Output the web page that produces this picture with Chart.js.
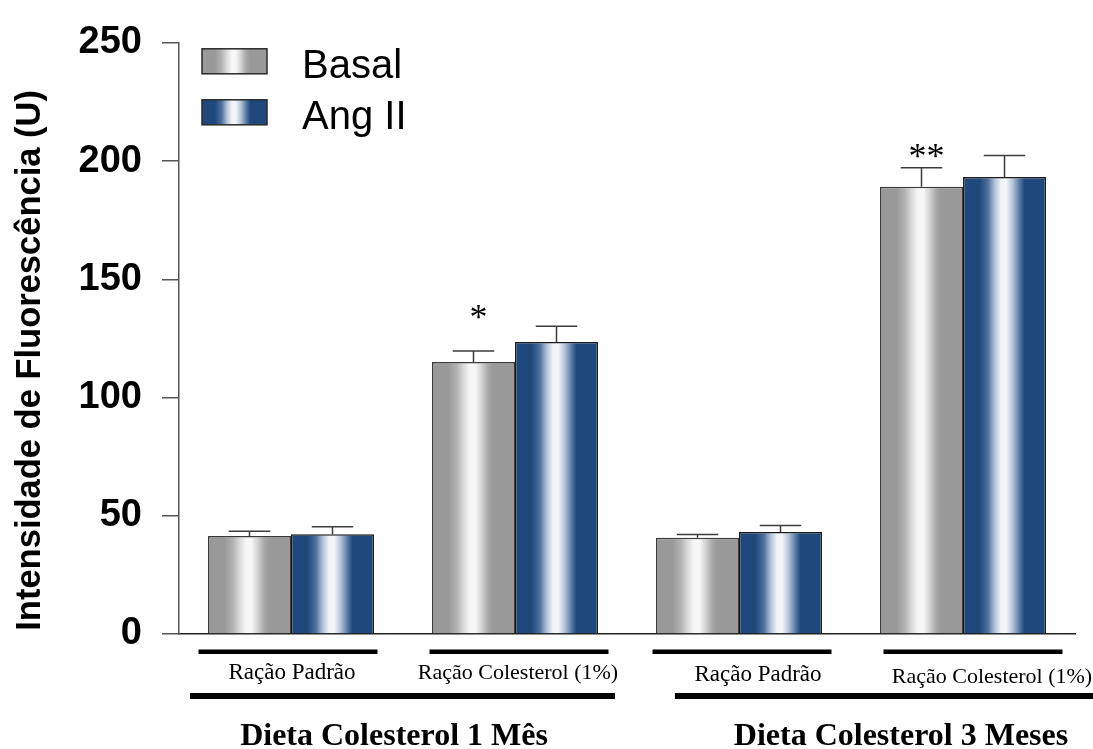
<!DOCTYPE html>
<html>
<head>
<meta charset="utf-8">
<script src="https://cdn.jsdelivr.net/npm/chart.js@4/dist/chart.umd.min.js"></script>
<style>
  html, body { margin: 0; padding: 0; background: #ffffff; }
  #wrap { width: 1093px; height: 749px; }
</style>
</head>
<body>
<div id="wrap"><canvas id="chart" width="1093" height="749"></canvas></div>
<script>
// ---- data ----
const categories = ['Ração Padrão', 'Ração Colesterol (1%)', 'Ração Padrão', 'Ração Colesterol (1%)'];
const dietGroups = ['Dieta Colesterol 1 Mês', 'Dieta Colesterol 3 Meses'];
const seriesNames = ['Basal', 'Ang II'];
const basalValues = [41.4, 115.0, 40.7, 189.1];
const basalErrors = [2.1, 4.7, 1.4, 8.1];
const angValues = [42.2, 123.5, 43.1, 193.3];
const angErrors = [3.1, 6.6, 2.8, 9.0];
const basalMarks = ['', '*', '', '**'];
const yTicks = [0, 50, 100, 150, 200, 250];
const yTitle = 'Intensidade de Fluorescência (U)';

// ---- styling ----
const SANS = "'Liberation Sans', Arial, Helvetica, sans-serif";
const SERIF = "'Liberation Serif', 'Times New Roman', Times, serif";
const BASE = ['#999999', '#1f497d'];
const STOPS = [
  [[0, '#999999'], [0.2, '#999999'], [0.3, '#b3b3b3'], [0.38, '#dadada'], [0.46, '#f7f7f7'],
   [0.52, '#f7f7f7'], [0.6, '#d2d2d2'], [0.68, '#a6a6a6'], [0.74, '#999999'], [1, '#999999']],
  [[0, '#1f497d'], [0.2, '#1f497d'], [0.3, '#4d709c'], [0.38, '#aebfd6'], [0.46, '#f2f5f9'],
   [0.52, '#f2f5f9'], [0.6, '#b3c3d8'], [0.68, '#5a7ba5'], [0.74, '#1f497d'], [1, '#1f497d']]
];
const ERRORS = [basalErrors, angErrors];
const VALUES = [basalValues, angValues];
const MARK_GAP = [0, 38, 0, 16];          // px between error cap and significance mark
const UNDERLINE_SHIFT = [-3, 4, 3, 10];   // px shift of the short rules from bar-pair centres
const LABEL_SHIFT = [1, 3, 19, 29];       // px shift of the diet labels
const GROUP_SHIFT = [-9, 50];             // px shift of the period labels

function shade(ctx, x0, x1, k) {
  const g = ctx.createLinearGradient(x0, 0, x1, 0);
  STOPS[k].forEach(([o, c]) => g.addColorStop(o, c));
  return g;
}

// bar fills: horizontal cylinder-like shading per bar
const shadingPlugin = {
  id: 'shading',
  beforeDatasetsDraw(chart) {
    chart.data.datasets.forEach((ds, di) => {
      chart.getDatasetMeta(di).data.forEach(bar => {
        const { x, width } = bar.getProps(['x', 'width'], true);
        bar.options.backgroundColor = shade(chart.ctx, x - width / 2, x + width / 2, di);
      });
    });
  }
};

// error bars (upper half) and significance marks
const errorPlugin = {
  id: 'errors',
  afterDatasetsDraw(chart) {
    const ctx = chart.ctx, y = chart.scales.y;
    ctx.save();
    chart.data.datasets.forEach((ds, di) => {
      chart.getDatasetMeta(di).data.forEach((bar, i) => {
        const { x, y: top, width } = bar.getProps(['x', 'y', 'width'], true);
        const cap = y.getPixelForValue(VALUES[di][i] + ERRORS[di][i]);
        ctx.strokeStyle = '#3c3c3c';
        ctx.lineWidth = 1.5;
        ctx.beginPath();
        ctx.moveTo(x, top);
        ctx.lineTo(x, cap);
        ctx.moveTo(x - width / 4, cap);
        ctx.lineTo(x + width / 4, cap);
        ctx.stroke();
        if (di === 0 && basalMarks[i]) {
          ctx.fillStyle = '#000';
          ctx.font = '36px ' + SERIF;
          ctx.textAlign = 'center';
          ctx.textBaseline = 'alphabetic';
          ctx.fillText(basalMarks[i], x + 5, cap - MARK_GAP[i] + 16);
        }
      });
    });
    ctx.restore();
  }
};

// legend, axis title and the grouping labels under the axis
const decorPlugin = {
  id: 'decor',
  afterDraw(chart) {
    const ctx = chart.ctx, ca = chart.chartArea, xs = chart.scales.x;
    ctx.save();

    // legend
    seriesNames.forEach((name, k) => {
      const bx = ca.left + 23, by = ca.top + 6 + k * 51, bw = 65, bh = 25;
      ctx.fillStyle = shade(ctx, bx, bx + bw, k);
      ctx.fillRect(bx, by, bw, bh);
      ctx.strokeStyle = '#2a2a2a';
      ctx.lineWidth = 1.5;
      ctx.strokeRect(bx, by, bw, bh);
      ctx.fillStyle = '#000';
      ctx.font = '40px ' + SANS;
      ctx.textAlign = 'left';
      ctx.textBaseline = 'alphabetic';
      ctx.fillText(name, ca.left + 123, by + bh / 2 + 17);
    });

    // y axis title
    ctx.save();
    ctx.translate(30, (ca.top + ca.bottom) / 2 + 22);
    ctx.rotate(-Math.PI / 2);
    ctx.font = 'bold 34.5px ' + SANS;
    ctx.textAlign = 'center';
    ctx.textBaseline = 'middle';
    ctx.fillStyle = '#000';
    ctx.fillText(yTitle, 0, 0);
    ctx.restore();

    // diet labels with short rules
    ctx.fillStyle = '#000';
    categories.forEach((lab, i) => {
      const cx = xs.getPixelForValue(i);
      ctx.fillRect(cx + UNDERLINE_SHIFT[i] - 89.5, ca.bottom + 15.5, 179, 4.5);
      ctx.font = (i % 2 === 0 ? 23 : 22) + 'px ' + SERIF;
      ctx.textAlign = 'center';
      ctx.textBaseline = 'middle';
      ctx.fillText(lab, cx + LABEL_SHIFT[i], ca.bottom + 39 + (i >= 2 ? i - 1 : 0) * 2);
    });

    // period labels with long rules
    dietGroups.forEach((lab, g) => {
      const mid = (xs.getPixelForValue(2 * g) + xs.getPixelForValue(2 * g + 1)) / 2;
      if (g === 0) ctx.fillRect(mid - 213, ca.bottom + 59, 425, 6);
      else ctx.fillRect(mid - 176, ca.bottom + 59, 460, 6);
      ctx.font = 'bold 32px ' + SERIF;
      ctx.textAlign = 'center';
      ctx.textBaseline = 'alphabetic';
      ctx.fillText(lab, mid + GROUP_SHIFT[g], ca.bottom + 111);
    });
    ctx.restore();
  }
};

new Chart(document.getElementById('chart'), {
  type: 'bar',
  data: {
    labels: categories,
    datasets: [
      { label: seriesNames[0], data: basalValues, backgroundColor: () => BASE[0],
        borderColor: '#3a3a3a', borderWidth: 1.5 },
      { label: seriesNames[1], data: angValues, backgroundColor: () => BASE[1],
        borderColor: '#1a1a1a', borderWidth: 1.5 }
    ]
  },
  options: {
    responsive: false,
    devicePixelRatio: 1,
    animation: false,
    events: [],
    categoryPercentage: 0.741,
    barPercentage: 1,
    layout: { padding: { left: 0, top: 36, right: 18, bottom: 115 } },
    plugins: { legend: { display: false }, tooltip: { enabled: false } },
    scales: {
      x: {
        grid: { display: false, drawTicks: false },
        border: { display: true, color: '#222', width: 1.5 },
        ticks: { display: false }
      },
      y: {
        min: 0, max: 250,
        afterBuildTicks: s => { s.ticks = yTicks.map(v => ({ value: v })); },
        afterFit: s => { s.width = 179; },
        grid: { drawOnChartArea: false, drawTicks: true, tickLength: 17, color: '#555', lineWidth: 1.5 },
        border: { display: true, color: '#555', width: 1.5 },
        ticks: { padding: 20, color: '#000', font: { family: SANS, size: 38, weight: 'bold' } }
      }
    }
  },
  plugins: [shadingPlugin, errorPlugin, decorPlugin]
});
</script>
</body>
</html>
